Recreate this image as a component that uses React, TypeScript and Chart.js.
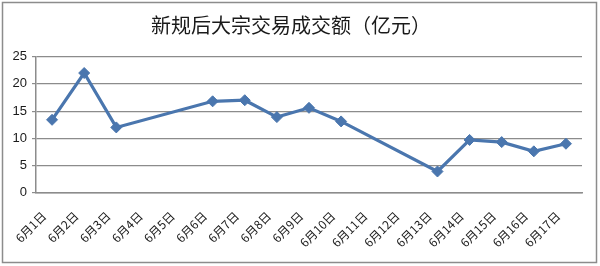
import React, { useEffect, useRef } from "react";
import { Chart, registerables } from "chart.js";

Chart.register(...registerables);

const titleText = "新规后大宗交易成交额（亿元）";
const categories = [
  "6月1日", "6月2日", "6月3日", "6月4日", "6月5日", "6月6日", "6月7日", "6月8日", "6月9日",
  "6月10日", "6月11日", "6月12日", "6月13日", "6月14日", "6月15日", "6月16日", "6月17日",
];
const amounts: (number | null)[] = [
  13.4, 22.0, 12.0, null, null, 16.8, 17.0, 13.9, 15.6,
  13.1, null, null, 3.9, 9.7, 9.3, 7.6, 9.0,
];
const yTicks = [0, 5, 10, 15, 20, 25];

const framePlugin = {
  id: "frame",
  beforeDraw(chart: any) {
    const ctx = chart.ctx;
    ctx.save();
    ctx.fillStyle = "#ffffff";
    ctx.fillRect(0, 0, chart.width, chart.height);
    ctx.restore();
  },
  afterDraw(chart: any) {
    const ctx = chart.ctx;
    ctx.save();
    ctx.strokeStyle = "#8c8c8c";
    ctx.lineWidth = 1.5;
    ctx.strokeRect(2.5, 2.5, chart.width - 6, chart.height - 6);
    ctx.restore();
  },
};

export default function App() {
  const ref = useRef<HTMLCanvasElement>(null);
  useEffect(() => {
    document.body.style.margin = "0";
    if (!ref.current) return;
    const chart = new Chart(ref.current, {
      type: "line",
      data: {
        labels: categories,
        datasets: [
          {
            data: amounts,
            borderColor: "#4a76ae",
            backgroundColor: "#4a76ae",
            borderWidth: 3.2,
            pointStyle: "rectRot",
            pointRadius: 5.5,
            pointBorderWidth: 1,
            spanGaps: true,
            tension: 0,
          },
        ],
      },
      options: {
        responsive: false,
        animation: false,
        events: [],
        layout: { padding: { left: 0, right: 18, top: 0, bottom: 0 } },
        plugins: {
          legend: { display: false },
          tooltip: { enabled: false },
          title: {
            display: true,
            text: titleText,
            color: "#1a1a1a",
            font: { family: "'Noto Sans CJK SC'", size: 20, weight: "normal", lineHeight: 1.2 },
            padding: { top: 13, bottom: 19.7 },
          },
        },
        scales: {
          x: {
            offset: true,
            grid: { display: false },
            border: { display: true, color: "#8c8c8c", width: 1.5 },
            ticks: {
              autoSkip: false,
              maxRotation: 45,
              minRotation: 45,
              labelOffset: -8,
              padding: 8,
              color: "#1a1a1a",
              font: { family: "'Noto Sans CJK SC'", size: 12 },
            },
            afterFit(scale: any) {
              scale.height = 73.3;
            },
          },
          y: {
            min: 0,
            max: 25,
            afterBuildTicks(scale: any) {
              scale.ticks = yTicks.map((v) => ({ value: v }));
            },
            grid: { color: "#8c8c8c", lineWidth: 1.2, tickLength: 4 },
            border: { display: true, color: "#8c8c8c", width: 1.5 },
            ticks: {
              padding: 5,
              color: "#1a1a1a",
              font: { family: "'Liberation Sans'", size: 13 },
            },
            afterFit(scale: any) {
              scale.width = 36;
            },
          },
        },
      },
      plugins: [framePlugin],
    });
    return () => chart.destroy();
  }, []);
  return <canvas ref={ref} width={600} height={266} style={{ display: "block" }} />;
}
